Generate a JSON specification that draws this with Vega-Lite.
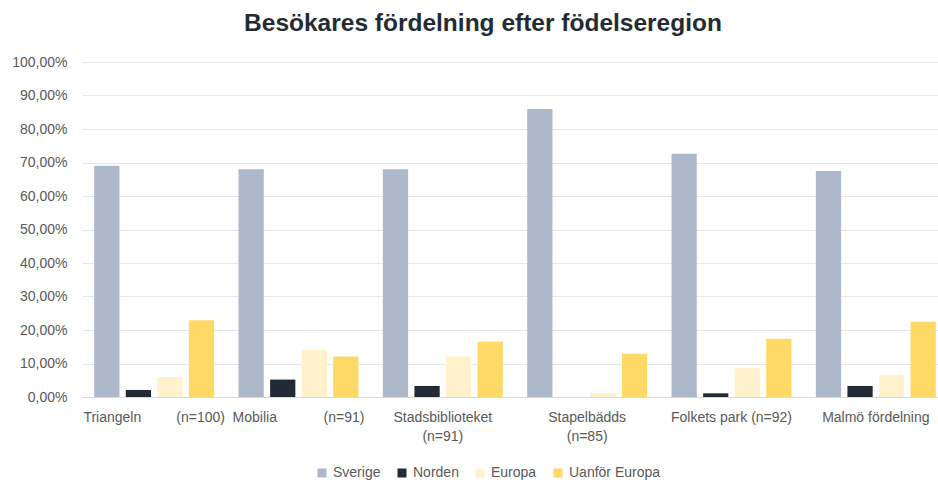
{
  "$schema": "https://vega.github.io/schema/vega-lite/v6.json",
  "autosize": {"type": "none"},
  "padding": {"left": 82, "top": 62, "right": 0, "bottom": 83},
  "width": 866,
  "height": 335,
  "background": "white",
  "title": {
    "text": "Besökares fördelning efter födelseregion",
    "font": "Liberation Sans",
    "fontSize": 24.5,
    "fontWeight": "bold",
    "color": "#252B33",
    "anchor": "middle",
    "offset": 19,
    "dx": -32
  },
  "data": {
    "values": [
      {"plats": "Triangeln (n=100)", "region": "Sverige", "andel": 0.690},
      {"plats": "Triangeln (n=100)", "region": "Norden", "andel": 0.021},
      {"plats": "Triangeln (n=100)", "region": "Europa", "andel": 0.060},
      {"plats": "Triangeln (n=100)", "region": "Uanför Europa", "andel": 0.229},
      {"plats": "Mobilia (n=91)", "region": "Sverige", "andel": 0.680},
      {"plats": "Mobilia (n=91)", "region": "Norden", "andel": 0.052},
      {"plats": "Mobilia (n=91)", "region": "Europa", "andel": 0.140},
      {"plats": "Mobilia (n=91)", "region": "Uanför Europa", "andel": 0.121},
      {"plats": "Stadsbiblioteket (n=91)", "region": "Sverige", "andel": 0.680},
      {"plats": "Stadsbiblioteket (n=91)", "region": "Norden", "andel": 0.033},
      {"plats": "Stadsbiblioteket (n=91)", "region": "Europa", "andel": 0.121},
      {"plats": "Stadsbiblioteket (n=91)", "region": "Uanför Europa", "andel": 0.165},
      {"plats": "Stapelbädds (n=85)", "region": "Sverige", "andel": 0.860},
      {"plats": "Stapelbädds (n=85)", "region": "Norden", "andel": 0.0},
      {"plats": "Stapelbädds (n=85)", "region": "Europa", "andel": 0.012},
      {"plats": "Stapelbädds (n=85)", "region": "Uanför Europa", "andel": 0.129},
      {"plats": "Folkets park (n=92)", "region": "Sverige", "andel": 0.726},
      {"plats": "Folkets park (n=92)", "region": "Norden", "andel": 0.011},
      {"plats": "Folkets park (n=92)", "region": "Europa", "andel": 0.086},
      {"plats": "Folkets park (n=92)", "region": "Uanför Europa", "andel": 0.174},
      {"plats": "Malmö fördelning", "region": "Sverige", "andel": 0.675},
      {"plats": "Malmö fördelning", "region": "Norden", "andel": 0.033},
      {"plats": "Malmö fördelning", "region": "Europa", "andel": 0.065},
      {"plats": "Malmö fördelning", "region": "Uanför Europa", "andel": 0.225}
    ]
  },
  "mark": {"type": "bar"},
  "encoding": {
    "x": {
      "field": "plats",
      "type": "nominal",
      "sort": null,
      "title": null,
      "scale": {"paddingInner": 0.169, "paddingOuter": 0.0845},
      "axis": {
        "labelAngle": 0,
        "ticks": false,
        "domainColor": "#D9D9D9",
        "domainWidth": 1,
        "labelFont": "Liberation Sans",
        "labelFontSize": 14,
        "labelColor": "#595959",
        "labelPadding": 13,
        "labelLineHeight": 19,
        "labelBaseline": "top",
        "labelLimit": 300,
        "labelExpr": "datum.label == 'Triangeln (n=100)' ? 'Triangeln\u00a0\u00a0\u00a0\u00a0\u00a0\u00a0\u00a0\u00a0\u00a0(n=100)' : datum.label == 'Mobilia (n=91)' ? 'Mobilia\u00a0\u00a0\u00a0\u00a0\u00a0\u00a0\u00a0\u00a0\u00a0\u00a0\u00a0\u00a0(n=91)' : datum.label == 'Stadsbiblioteket (n=91)' ? ['Stadsbiblioteket', '(n=91)'] : datum.label == 'Stapelbädds (n=85)' ? ['Stapelbädds', '(n=85)'] : datum.label"
      }
    },
    "xOffset": {
      "field": "region",
      "type": "nominal",
      "sort": ["Sverige", "Norden", "Europa", "Uanför Europa"],
      "scale": {"paddingInner": 0.2, "paddingOuter": 0}
    },
    "y": {
      "field": "andel",
      "type": "quantitative",
      "title": null,
      "scale": {"domain": [0, 1], "nice": false},
      "axis": {
        "values": [0, 0.1, 0.2, 0.3, 0.4, 0.5, 0.6, 0.7, 0.8, 0.9, 1.0],
        "labelExpr": "replace(format(datum.value, '.2%'), '.', ',')",
        "domain": false,
        "ticks": false,
        "gridColor": "#E3E6EA",
        "gridWidth": 1,
        "labelFont": "Liberation Sans",
        "labelFontSize": 14,
        "labelColor": "#595959",
        "labelPadding": 15
      }
    },
    "color": {
      "field": "region",
      "type": "nominal",
      "scale": {
        "domain": ["Sverige", "Norden", "Europa", "Uanför Europa"],
        "range": ["#ADB9CA", "#222A35", "#FFF2CC", "#FFD966"]
      },
      "legend": {
        "title": null,
        "orient": "none",
        "direction": "horizontal",
        "legendX": 233,
        "legendY": 404,
        "symbolType": "square",
        "symbolSize": 81,
        "symbolStrokeWidth": 0,
        "labelFont": "Liberation Sans",
        "labelFontSize": 14,
        "labelColor": "#595959",
        "labelOffset": 4,
        "columnPadding": 14,
        "padding": 0
      }
    }
  },
  "config": {
    "view": {"stroke": null}
  }
}
